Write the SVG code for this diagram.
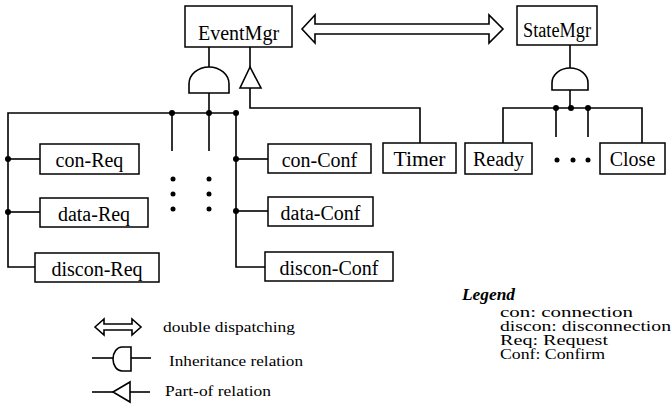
<svg xmlns="http://www.w3.org/2000/svg" width="672" height="404" viewBox="0 0 672 404">
  <style>
    .box { fill: #fff; stroke: #000; stroke-width: 1.5; }
    .lbl { font-family: "Liberation Serif", "Times New Roman", serif; font-size: 20px; fill: #000; text-anchor: middle; }
    .ln { fill: none; stroke: #000; stroke-width: 1.6; }
    .sym { fill: #fff; stroke: #000; stroke-width: 1.6; }
    .dot { fill: #000; }
    .leg { font-family: "Liberation Serif", "Times New Roman", serif; font-size: 15px; fill: #000; }
    .abbr { font-family: "Liberation Serif", "Times New Roman", serif; font-size: 14px; fill: #000; }
    .legh { font-family: "Liberation Serif", serif; font-size: 16px; font-weight: bold; font-style: italic; fill: #000; }
  </style>

  <!-- connectors -->
  <g id="connectors">
    <!-- EventMgr inheritance tree -->
    <line class="ln" x1="209" y1="47" x2="209" y2="67"/>
    <path class="sym" d="M189,93 L189,84 A20,17 0 0 1 229,84 L229,93 Z"/>
    <line class="ln" x1="209" y1="93" x2="209" y2="113"/>
    <polyline class="ln" points="35,267 8,267 8,113 236,113 236,267 265,267"/>
    <line class="ln" x1="8" y1="159" x2="40" y2="159"/>
    <line class="ln" x1="8" y1="212" x2="40" y2="212"/>
    <line class="ln" x1="172" y1="113" x2="172" y2="151"/>
    <line class="ln" x1="209" y1="113" x2="209" y2="151"/>
    <line class="ln" x1="236" y1="159" x2="268" y2="159"/>
    <line class="ln" x1="236" y1="211" x2="268" y2="211"/>
    <circle class="dot" cx="8" cy="159" r="3"/>
    <circle class="dot" cx="8" cy="212" r="3"/>
    <circle class="dot" cx="172" cy="113" r="3"/>
    <circle class="dot" cx="209" cy="113" r="3"/>
    <circle class="dot" cx="236" cy="113" r="3"/>
    <circle class="dot" cx="236" cy="159" r="3"/>
    <circle class="dot" cx="236" cy="211" r="3"/>
    <circle class="dot" cx="173" cy="179" r="2.5"/>
    <circle class="dot" cx="173" cy="194" r="2.5"/>
    <circle class="dot" cx="173" cy="209" r="2.5"/>
    <circle class="dot" cx="209" cy="179" r="2.5"/>
    <circle class="dot" cx="209" cy="194" r="2.5"/>
    <circle class="dot" cx="209" cy="209" r="2.5"/>

    <!-- EventMgr part-of Timer -->
    <line class="ln" x1="250" y1="47" x2="250" y2="67"/>
    <polygon class="sym" points="250,67 240,88 261,88"/>
    <polyline class="ln" points="250,88 250,108 420,108 420,143"/>

    <!-- double dispatching -->
    <path class="sym" d="M302,29 L315,15 L315,24 L489,24 L489,15 L503,29 L489,43 L489,34 L315,34 L315,43 Z"/>

    <!-- StateMgr inheritance tree -->
    <line class="ln" x1="570" y1="45" x2="570" y2="68"/>
    <path class="sym" d="M552,90 L552,83 A18,15 0 0 1 588,83 L588,90 Z"/>
    <line class="ln" x1="570" y1="90" x2="570" y2="108"/>
    <polyline class="ln" points="503,143 503,108 642,108 642,143"/>
    <line class="ln" x1="556" y1="108" x2="556" y2="137"/>
    <line class="ln" x1="588" y1="108" x2="588" y2="137"/>
    <circle class="dot" cx="556" cy="108" r="3"/>
    <circle class="dot" cx="571" cy="108" r="3"/>
    <circle class="dot" cx="588" cy="108" r="3"/>
    <circle class="dot" cx="557" cy="160" r="2.5"/>
    <circle class="dot" cx="573" cy="160" r="2.5"/>
    <circle class="dot" cx="588" cy="160" r="2.5"/>
  </g>

  <!-- nodes -->
  <g id="EventMgr"><rect class="box" x="185" y="6" width="107" height="41"/><text class="lbl" x="238.5" y="40">EventMgr</text></g>
  <g id="StateMgr"><rect class="box" x="517" y="6" width="80" height="39"/><text class="lbl" x="557" y="37" textLength="68" lengthAdjust="spacingAndGlyphs">StateMgr</text></g>
  <g id="con-Req"><rect class="box" x="40" y="144" width="99" height="30"/><text class="lbl" x="89.5" y="167">con-Req</text></g>
  <g id="data-Req"><rect class="box" x="40" y="198" width="108" height="29"/><text class="lbl" x="94" y="221">data-Req</text></g>
  <g id="discon-Req"><rect class="box" x="35" y="253" width="124" height="29"/><text class="lbl" x="97" y="276">discon-Req</text></g>
  <g id="con-Conf"><rect class="box" x="268" y="144" width="103" height="29"/><text class="lbl" x="319.5" y="167">con-Conf</text></g>
  <g id="data-Conf"><rect class="box" x="268" y="197" width="105" height="29"/><text class="lbl" x="320.5" y="220">data-Conf</text></g>
  <g id="discon-Conf"><rect class="box" x="265" y="252" width="128" height="29"/><text class="lbl" x="329" y="275">discon-Conf</text></g>
  <g id="Timer"><rect class="box" x="383" y="143" width="73" height="30"/><text class="lbl" x="419.5" y="166" textLength="52" lengthAdjust="spacingAndGlyphs">Timer</text></g>
  <g id="Ready"><rect class="box" x="465" y="143" width="67" height="31"/><text class="lbl" x="498.5" y="166">Ready</text></g>
  <g id="Close"><rect class="box" x="600" y="143" width="65" height="31"/><text class="lbl" x="632.5" y="166">Close</text></g>

  <!-- symbol legend -->
  <g id="legend-symbols">
    <path class="sym" d="M95,327 L104,319 L104,324 L132,324 L132,319 L141,327 L132,335 L132,330 L104,330 L104,335 Z"/>
    <text class="leg" x="163" y="332" textLength="132" lengthAdjust="spacingAndGlyphs">double dispatching</text>
    <line class="ln" x1="92" y1="358" x2="113" y2="358"/>
    <path class="sym" d="M131,347 L122,347 A9,12 0 0 0 122,371 L131,371 Z"/>
    <line class="ln" x1="131" y1="358" x2="151" y2="358"/>
    <text class="leg" x="169" y="366" textLength="134" lengthAdjust="spacingAndGlyphs">Inheritance relation</text>
    <line class="ln" x1="92" y1="392" x2="113" y2="392"/>
    <polygon class="sym" points="113,392 130,382 130,402"/>
    <line class="ln" x1="130" y1="392" x2="150" y2="392"/>
    <text class="leg" x="165" y="396" textLength="106" lengthAdjust="spacingAndGlyphs">Part-of relation</text>
  </g>

  <!-- abbreviation legend -->
  <g id="legend-abbrev">
    <text class="legh" x="462" y="300" textLength="53" lengthAdjust="spacingAndGlyphs">Legend</text>
    <text class="abbr" x="500" y="317" textLength="133" lengthAdjust="spacingAndGlyphs">con: connection</text>
    <text class="abbr" x="500" y="331" textLength="171" lengthAdjust="spacingAndGlyphs">discon: disconnection</text>
    <text class="abbr" x="500" y="345" textLength="108" lengthAdjust="spacingAndGlyphs">Req: Request</text>
    <text class="abbr" x="500" y="359" textLength="105" lengthAdjust="spacingAndGlyphs">Conf: Confirm</text>
  </g>
</svg>
